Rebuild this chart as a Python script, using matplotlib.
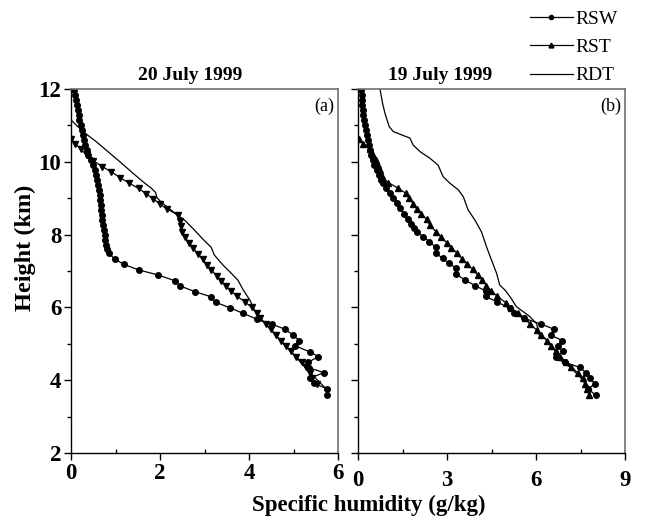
import matplotlib
matplotlib.use("Agg")
import matplotlib.pyplot as plt
from matplotlib.lines import Line2D
from matplotlib.ticker import MultipleLocator

plt.rcParams['font.family'] = ['Liberation Serif', 'DejaVu Serif']

# ---------------- Panel (a): 20 July 1999 ----------------
a_rsw_h = [11.97, 11.83, 11.70, 11.56, 11.42, 11.29, 11.15, 11.01, 10.87, 10.74,
           10.60, 10.46, 10.33, 10.19, 10.05, 9.91, 9.77, 9.64, 9.50, 9.36,
           9.23, 9.09, 8.95, 8.81, 8.68, 8.54, 8.40, 8.26, 8.13, 7.99,
           7.85, 7.71, 7.60, 7.49, 7.33, 7.18, 7.03, 6.89, 6.73, 6.59,
           6.43, 6.29, 6.14, 5.99, 5.84, 5.68, 5.54, 5.40, 5.24, 5.09,
           4.95, 4.78, 4.65, 4.49, 4.34, 4.21, 4.05, 3.92, 3.76, 3.59]
a_rsw_q = [0.07, 0.09, 0.11, 0.13, 0.15, 0.17, 0.19, 0.22, 0.25, 0.27,
           0.29, 0.32, 0.35, 0.39, 0.44, 0.50, 0.53, 0.56, 0.59, 0.61,
           0.63, 0.65, 0.66, 0.67, 0.68, 0.69, 0.70, 0.71, 0.74, 0.76,
           0.77, 0.79, 0.81, 0.85, 0.98, 1.19, 1.52, 1.96, 2.34, 2.45,
           2.79, 3.15, 3.25, 3.57, 3.86, 4.17, 4.51, 4.81, 4.99, 5.13,
           5.03, 5.36, 5.56, 5.33, 5.35, 5.68, 5.37, 5.45, 5.76, 5.75]

a_rst_h = [10.64, 10.49, 10.34, 10.18, 10.03, 9.87, 9.72, 9.56, 9.41, 9.27,
           9.12, 8.98, 8.84, 8.71, 8.54, 8.37, 8.24, 8.08, 7.93, 7.78,
           7.62, 7.47, 7.32, 7.17, 7.04, 6.87, 6.73, 6.59, 6.45, 6.30,
           6.16, 6.00, 5.84, 5.70, 5.54, 5.40, 5.24, 5.09, 4.94, 4.79,
           4.65, 4.50, 4.35, 4.19, 4.05, 3.90]
a_rst_q = [0.00, 0.10, 0.23, 0.35, 0.50, 0.70, 0.91, 1.11, 1.31, 1.52,
           1.69, 1.85, 2.00, 2.15, 2.40, 2.45, 2.47, 2.50, 2.56, 2.65,
           2.75, 2.85, 2.96, 3.05, 3.15, 3.27, 3.38, 3.48, 3.60, 3.74,
           3.90, 4.06, 4.17, 4.25, 4.38, 4.50, 4.60, 4.72, 4.83, 4.95,
           5.05, 5.18, 5.28, 5.37, 5.42, 5.53]

a_rdt_h = [11.15, 10.83, 10.55, 10.28, 10.00, 9.71, 9.45, 9.28, 9.16, 9.02,
           8.90, 8.72, 8.55, 8.40, 8.13, 7.88, 7.65, 7.44, 7.17, 6.94,
           6.75, 6.48, 6.20, 5.88, 5.61, 5.47, 5.20, 4.90, 4.60, 4.30,
           4.05, 3.78]
a_rdt_q = [0.00, 0.27, 0.57, 0.83, 1.10, 1.37, 1.62, 1.80, 1.90, 1.93,
           2.02, 2.20, 2.38, 2.55, 2.77, 2.96, 3.15, 3.22, 3.41, 3.60,
           3.75, 3.87, 4.02, 4.14, 4.32, 4.43, 4.62, 4.85, 5.08, 5.30,
           5.50, 5.72]

# ---------------- Panel (b): 19 July 1999 ----------------
b_rsw_h = [11.97, 11.84, 11.70, 11.56, 11.42, 11.29, 11.15, 11.01, 10.87, 10.74,
           10.60, 10.46, 10.33, 10.19, 10.05, 9.91, 9.77, 9.64, 9.50, 9.43,
           9.27, 9.13, 9.00, 8.86, 8.72, 8.57, 8.43, 8.29, 8.18, 8.08,
           7.94, 7.81, 7.65, 7.49, 7.35, 7.21, 7.07, 6.91, 6.75, 6.60,
           6.45, 6.30, 6.16, 5.97, 5.84, 5.70, 5.54, 5.40, 5.24, 5.09,
           4.94, 4.79, 4.65, 4.49, 4.35, 4.21, 4.05, 3.90, 3.76, 3.59]
b_rsw_q = [0.10, 0.12, 0.13, 0.15, 0.16, 0.18, 0.20, 0.22, 0.26, 0.29,
           0.33, 0.37, 0.40, 0.45, 0.50, 0.55, 0.63, 0.72, 0.78, 0.83,
           0.94, 1.08, 1.17, 1.30, 1.41, 1.55, 1.67, 1.78, 1.88, 1.98,
           2.20, 2.40, 2.63, 2.63, 2.85, 3.07, 3.32, 3.32, 3.61, 3.95,
           4.30, 4.30, 4.67, 5.12, 5.25, 5.60, 6.18, 6.61, 6.49, 6.89,
           6.73, 6.91, 6.69, 6.98, 7.48, 7.68, 7.83, 7.98, 7.76, 8.01]

b_rst_h = [10.63, 10.49, 10.34, 10.19, 10.05, 9.91, 9.77, 9.60, 9.43, 9.27,
           9.13, 9.00, 8.84, 8.70, 8.57, 8.42, 8.26, 8.08, 7.94, 7.78,
           7.64, 7.49, 7.32, 7.18, 7.05, 6.89, 6.75, 6.60, 6.46, 6.30,
           6.13, 5.97, 5.84, 5.70, 5.54, 5.38, 5.24, 5.09, 4.95, 4.81,
           4.65, 4.51, 4.35, 4.21, 4.05, 3.90, 3.75, 3.59]
b_rst_q = [0.02, 0.18, 0.40, 0.49, 0.60, 0.68, 0.74, 0.80, 1.02, 1.36,
           1.62, 1.73, 1.86, 2.00, 2.14, 2.31, 2.42, 2.63, 2.79, 2.99,
           3.15, 3.34, 3.52, 3.69, 3.86, 4.03, 4.19, 4.33, 4.48, 4.70,
           4.98, 5.17, 5.40, 5.62, 5.80, 6.02, 6.18, 6.37, 6.52, 6.66,
           6.82, 7.00, 7.19, 7.40, 7.57, 7.64, 7.72, 7.79]

b_rdt_h = [12.00, 11.60, 11.33, 10.97, 10.83, 10.74, 10.65, 10.46, 10.28, 10.10,
           9.91, 9.59, 9.41, 9.23, 9.04, 8.68, 8.40, 8.08, 7.67, 7.30,
           6.94, 6.61, 6.48, 6.30, 6.02, 5.75, 5.55, 5.30, 5.15, 5.15,
           5.00, 4.75, 4.46, 4.37, 4.19, 4.00, 3.73]
b_rdt_q = [0.74, 0.83, 0.91, 1.05, 1.19, 1.47, 1.75, 1.86, 2.09, 2.42,
           2.70, 2.87, 3.10, 3.38, 3.55, 3.71, 3.94, 4.16, 4.33, 4.50,
           4.67, 4.78, 4.95, 5.12, 5.34, 5.79, 6.02, 6.10, 6.13, 6.30,
           6.45, 6.70, 6.91, 7.14, 7.36, 7.59, 7.87]

titles = ["20 July 1999", "19 July 1999"]
panel_tags = ["(a)", "(b)"]
legend_labels = ["RSW", "RST", "RDT"]
a_xticks = [0, 2, 4, 6]
b_xticks = [0, 3, 6, 9]
yticks = [2, 4, 6, 8, 10, 12]

W, H = 645, 523
fig = plt.figure(figsize=(W / 100, H / 100), dpi=100)
axa = fig.add_axes([71 / W, 1 - 453 / H, 267 / W, 364 / H])
axb = fig.add_axes([358 / W, 1 - 453 / H, 267 / W, 364 / H])

lw = 0.9
TICK_FS = 16.5
for ax in (axa, axb):
    ax.set_ylim(2, 12)
    ax.yaxis.set_major_locator(MultipleLocator(2))
    ax.yaxis.set_minor_locator(MultipleLocator(1))
    for s in ('left', 'bottom'):
        ax.spines[s].set_color('black')
        ax.spines[s].set_linewidth(1.0)
    for s in ('top', 'right'):
        ax.spines[s].set_color('#707070')
        ax.spines[s].set_linewidth(1.2)
    ax.tick_params(axis='y', which='major', direction='out', length=5, width=1)
    ax.tick_params(axis='y', which='minor', direction='out', length=3, width=1)
    ax.tick_params(axis='x', which='major', direction='out', length=5, width=1)
    ax.tick_params(axis='x', which='minor', direction='in', length=3, width=1)
    ax.tick_params(top=False, right=False)

# panel a
axa.plot(a_rsw_q, a_rsw_h, color='black', lw=lw, marker='o', ms=4)
axa.plot(a_rst_q, a_rst_h, color='black', lw=lw, marker='v', ms=4.5)
axa.plot(a_rdt_q, a_rdt_h, color='black', lw=lw)
axa.set_xlim(0, 6)
axa.set_xticks(a_xticks)
axa.xaxis.set_minor_locator(MultipleLocator(1))
axa.set_yticks(yticks)
axa.tick_params(axis='both', which='major', labelsize=TICK_FS, pad=2)
for lab in axa.get_xticklabels() + axa.get_yticklabels():
    lab.set_fontweight('bold')

# panel b
axb.plot(b_rsw_q, b_rsw_h, color='black', lw=lw, marker='o', ms=4)
axb.plot(b_rst_q, b_rst_h, color='black', lw=lw, marker='^', ms=4.5)
axb.plot(b_rdt_q, b_rdt_h, color='black', lw=lw)
axb.set_xlim(0, 9)
axb.set_xticks(b_xticks)
axb.xaxis.set_minor_locator(MultipleLocator(1.5))
axb.set_yticks(yticks)
axb.set_yticklabels([])
axb.tick_params(axis='x', which='major', labelsize=TICK_FS, pad=7)
for lab in axb.get_xticklabels():
    lab.set_fontweight('bold')

# titles placed as in the reference (left of the panel centres)
fig.text(190 / W, 1 - 80 / H, titles[0], ha='center', va='baseline',
         fontsize=14, fontweight='bold')
fig.text(440 / W, 1 - 80 / H, titles[1], ha='center', va='baseline',
         fontsize=14, fontweight='bold')
for ax, tag in zip((axa, axb), panel_tags):
    ax.text(0.985, 0.975, tag, transform=ax.transAxes, ha='right', va='top', fontsize=13)

fig.text(25 / W, 1 - 248 / H, "Height (km)", rotation=90, ha='center', va='center',
         fontsize=17.5, fontweight='bold')
fig.text(369 / W, 1 - 505 / H, "Specific humidity (g/kg)", ha='center', va='center',
         fontsize=16.5, fontweight='bold')

handles = [Line2D([], [], color='black', lw=lw, marker='o', ms=3),
           Line2D([], [], color='black', lw=lw, marker='^', ms=3.5),
           Line2D([], [], color='black', lw=lw)]
fig.legend(handles, legend_labels, loc='upper left',
           bbox_to_anchor=(526 / W, 1 - 6 / H), frameon=False, fontsize=14,
           handlelength=2.2, handletextpad=0.12, labelspacing=0.56,
           borderpad=0.2, borderaxespad=0)

fig.savefig("out.png", dpi=100)
